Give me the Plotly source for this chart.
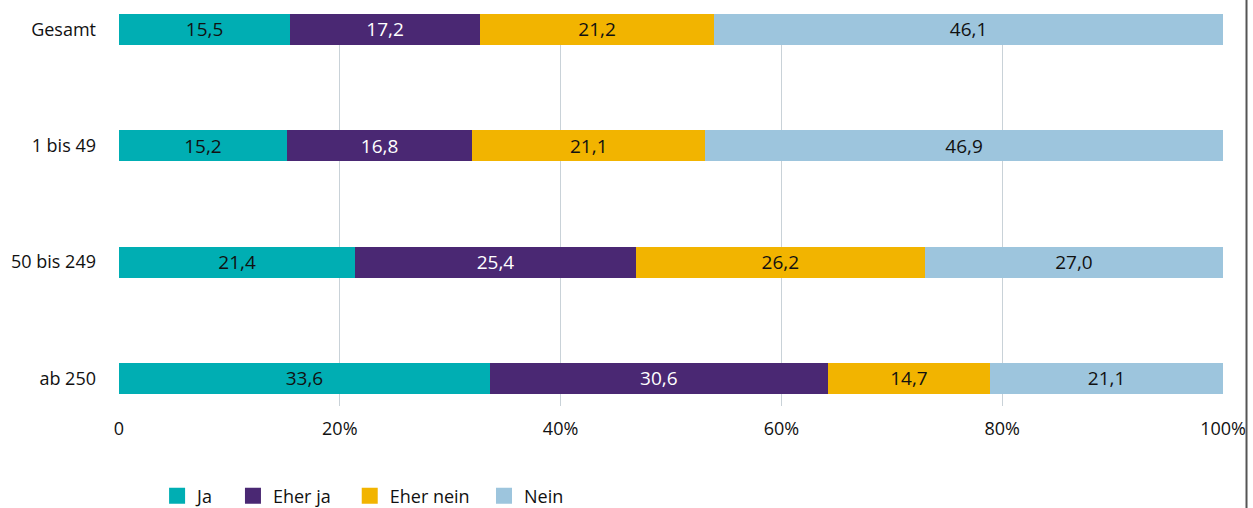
import plotly.graph_objects as go

categories = ["Gesamt", "1 bis 49", "50 bis 249", "ab 250"]
series_names = ["Ja", "Eher ja", "Eher nein", "Nein"]
ja = [15.5, 15.2, 21.4, 33.6]
eher_ja = [17.2, 16.8, 25.4, 30.6]
eher_nein = [21.2, 21.1, 26.2, 14.7]
nein = [46.1, 46.9, 27.0, 21.1]
tick_vals = [0, 20, 40, 60, 80, 100]
tick_text = ["0", "20%", "40%", "60%", "80%", "100%"]

colors = ["#00aeb3", "#4a2873", "#f2b400", "#9dc5dd"]
text_colors = ["#111111", "#ffffff", "#111111", "#111111"]
legend_pad = ["\u00a0\u00a0\u00a0", "\u00a0\u00a0\u00a0", "\u00a0\u00a0", ""]
FONT = "Open Sans, Noto Sans, sans-serif"

fig = go.Figure()
for name, vals, col, tcol, pad in zip(series_names, [ja, eher_ja, eher_nein, nein], colors, text_colors, legend_pad):
    fig.add_trace(go.Bar(
        y=categories, x=vals, orientation="h", name=name,
        marker=dict(color=col, line=dict(width=0)),
        text=[f"{v:.1f}".replace(".", ",") for v in vals],
        textposition="inside", insidetextanchor="middle", textangle=0,
        constraintext="none",
        textfont=dict(color=tcol, size=19, family=FONT),
        width=0.267, showlegend=False,
    ))
    # legend entries
    fig.add_trace(go.Scatter(
        x=[None], y=[None], mode="markers", name=name + pad,
        marker=dict(symbol="square", size=16, color=col),
        showlegend=True,
    ))

fig.update_layout(
    barmode="stack",
    width=1253, height=508,
    margin=dict(l=119, r=30, t=14, b=102, autoexpand=False),
    plot_bgcolor="white", paper_bgcolor="white",
    font=dict(family=FONT, size=18, color="#111111"),
    legend=dict(orientation="h", x=0.0345, y=-0.23, xanchor="left", yanchor="middle",
                traceorder="normal",
                font=dict(size=18, family=FONT, color="#111111"),
                bgcolor="rgba(0,0,0,0)"),
    xaxis=dict(range=[0, 100], tickvals=tick_vals, ticktext=tick_text,
               showgrid=True, gridcolor="#c9d2d8", gridwidth=1,
               zeroline=False, showline=False, ticks="", automargin=False,
               ticklabelstandoff=10, fixedrange=True),
    yaxis=dict(categoryorder="array", categoryarray=categories,
               range=[3.237, -0.133], showgrid=False, zeroline=False,
               showline=False, ticks="", automargin=False,
               ticklabelstandoff=22, fixedrange=True),
    shapes=[dict(type="line", xref="paper", yref="paper", layer="above",
                 x0=1.0213, x1=1.0213, y0=-0.3, y1=1.1,
                 line=dict(color="#555555", width=2))],
)

fig.write_html(
    "out.html", config={"displayModeBar": False},
    post_script=("document.documentElement.style.overflow='hidden';"
                 "document.body.style.overflow='hidden';"
                 "document.body.style.margin='0';"),
)
